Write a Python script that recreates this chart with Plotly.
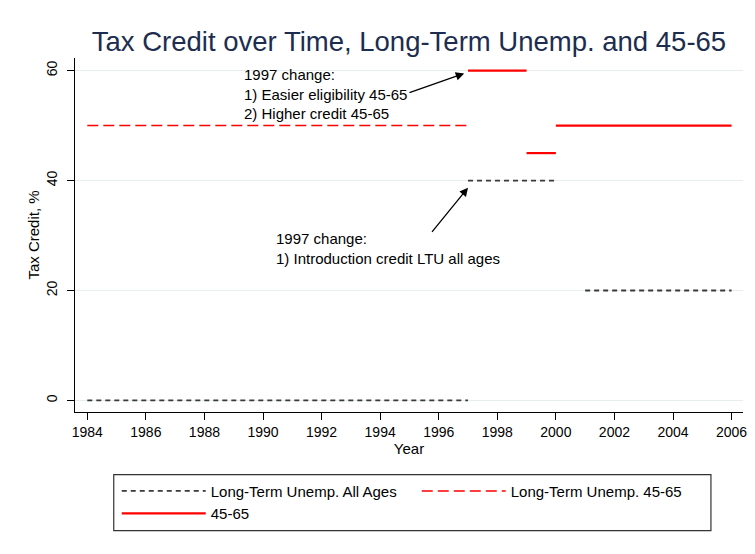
import plotly.graph_objects as go

# ---- data: horizontal step segments (start year, end year, value) ----
ltu_all_start = [1984, 1997, 2001]
ltu_all_end = [1997, 2000, 2006]
ltu_all_value = [0, 40, 20]

ltu_4565_start = [1984]
ltu_4565_end = [1997]
ltu_4565_value = [50]

age_4565_start = [1997, 1999, 2000]
age_4565_end = [1999, 2000, 2006]
age_4565_value = [60, 45, 50]

x_ticks = [1984, 1986, 1988, 1990, 1992, 1994, 1996, 1998, 2000, 2002, 2004, 2006]
y_ticks = [0, 20, 40, 60]

series_names = ["Long-Term Unemp. All Ages", "Long-Term Unemp. 45-65", "45-65"]

note1_text = "1997 change:<br>1) Easier eligibility 45-65<br>2) Higher credit 45-65"
note2_text = "1997 change:<br>1) Introduction credit LTU all ages"


def seg_xy(starts, ends, values):
    xs, ys = [], []
    for s, e, v in zip(starts, ends, values):
        xs += [s, e, None]
        ys += [v, v, None]
    return xs, ys


FONT = "Arial, Liberation Sans, sans-serif"

fig = go.Figure()
x1, y1 = seg_xy(ltu_all_start, ltu_all_end, ltu_all_value)
fig.add_trace(go.Scatter(x=x1, y=y1, mode="lines", name=series_names[0],
                         line=dict(color="#3a3a3a", width=1.8, dash="5px,4px")))
x2, y2 = seg_xy(ltu_4565_start, ltu_4565_end, ltu_4565_value)
fig.add_trace(go.Scatter(x=x2, y=y2, mode="lines", name=series_names[1],
                         line=dict(color="#ff0000", width=1.5, dash="11px,5px")))
x3, y3 = seg_xy(age_4565_start, age_4565_end, age_4565_value)
fig.add_trace(go.Scatter(x=x3, y=y3, mode="lines", name=series_names[2],
                         line=dict(color="#ff0000", width=2.2)))

# annotations (text blocks + arrows)
fig.add_annotation(x=1989.28, y=55.7, xref="x", yref="y", text=note1_text,
                   showarrow=False, xanchor="left", yanchor="middle", align="left",
                   font=dict(family=FONT, size=15, color="black"))
fig.add_annotation(x=1990.38, y=27.6, xref="x", yref="y", text=note2_text,
                   showarrow=False, xanchor="left", yanchor="middle", align="left",
                   font=dict(family=FONT, size=15, color="black"))
fig.add_annotation(x=1996.87, y=59.5, ax=1994.95, ay=55.9, xref="x", yref="y",
                   axref="x", ayref="y", text="", showarrow=True, arrowhead=2,
                   arrowsize=1.3, arrowwidth=1.3, arrowcolor="black", standoff=0)
fig.add_annotation(x=1997.0, y=38.7, ax=1995.73, ay=30.4, xref="x", yref="y",
                   axref="x", ayref="y", text="", showarrow=True, arrowhead=2,
                   arrowsize=1.3, arrowwidth=1.3, arrowcolor="black", standoff=0)

# faint outer frame (top and left)
fig.add_shape(type="line", xref="paper", yref="paper", x0=-0.1038, x1=1.2,
              y0=1.1468, y1=1.1468, line=dict(color="#e4eded", width=1.5))
fig.add_shape(type="line", xref="paper", yref="paper", x0=-0.1038, x1=-0.1038,
              y0=-0.5, y1=1.1468, line=dict(color="#e4eded", width=1.5))
# legend frame
fig.add_shape(type="rect", xref="paper", yref="paper", x0=0.058, x1=0.952,
              y0=-0.335, y1=-0.177, line=dict(color="#333333", width=1.2),
              fillcolor="rgba(0,0,0,0)")

fig.update_layout(
    width=755, height=554,
    margin=dict(l=67.3, r=20, t=50, b=149.7, autoexpand=False),
    paper_bgcolor="white", plot_bgcolor="white",
    font=dict(family=FONT, size=15, color="black"),
    title=dict(text="Tax Credit over Time, Long-Term Unemp. and 45-65",
               x=0.5, xref="paper", xanchor="center",
               y=1 - 33 / 554, yref="container", yanchor="middle",
               font=dict(family=FONT, size=27.5, color="#1c2d4f")),
    xaxis=dict(range=[1983.58, 2006.39], tickvals=x_ticks, ticks="outside",
               ticklen=7, tickcolor="black", tickwidth=1.2, showline=True,
               linecolor="black", linewidth=1.2, showgrid=False, zeroline=False,
               automargin=True,
               tickfont=dict(size=14), title=dict(text="Year", standoff=2,
                                                  font=dict(size=15))),
    yaxis=dict(range=[-2.1, 62.3], tickvals=y_ticks, ticks="outside",
               ticklen=7, tickcolor="black", tickwidth=1.2, showline=True,
               linecolor="black", linewidth=1.2, showgrid=True,
               gridcolor="#e6eeee", gridwidth=1.3, zeroline=False, automargin=True,
               tickangle=-90, tickfont=dict(size=14), ticklabelstandoff=4,
               title=dict(text="Tax Credit, %", standoff=1, font=dict(size=15))),
    legend=dict(orientation="h", x=0.0625, y=-0.177, xanchor="left", yanchor="top",
                borderwidth=0, bgcolor="rgba(0,0,0,0)",
                entrywidth=201, itemwidth=84, font=dict(family=FONT, size=15),
                traceorder="normal"),
)

fig.write_html("out.html")
